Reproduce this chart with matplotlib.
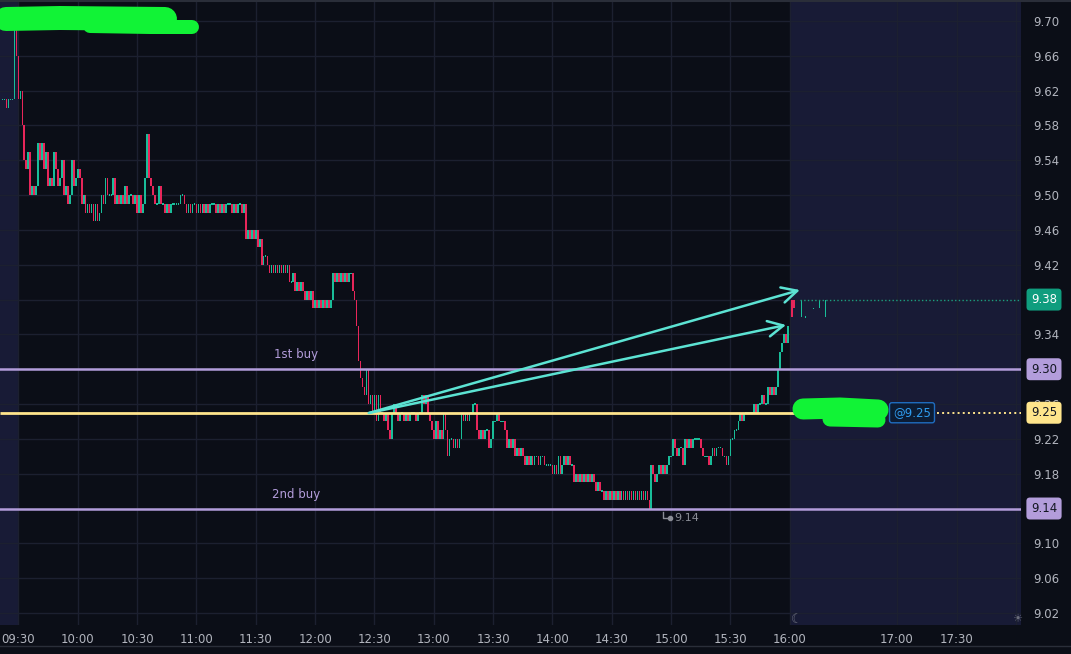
import numpy as np
import matplotlib
matplotlib.use('Agg')
import matplotlib.pyplot as plt

# 1-minute closes, cents above 9.00, one row per half hour (09:30 -> 15:59)
closes_cents = [
   61,62,58,54,53,55,50,51,50,51, 56,54,56,53,55,51,52,51,55,53, 51,52,54,50,51,49,50,54,51,52,
   53,52,49,50,48,49,48,49,47,49, 47,48,50,49,52,50,50,50,52,49, 50,49,50,49,51,49,50,50,49,50,
   48,50,48,49,52,57,52,51,50,49, 49,51,49,49,48,49,48,49,49,49, 49,49,50,50,49,48,49,48,49,49,
   48,49,48,49,48,49,48,49,49,49, 48,49,48,49,48,49,49,49,48,49, 48,49,49,48,49,45,46,45,46,45,
   46,44,45,42,43,43,42,41,42,41, 42,41,42,41,42,41,42,40,40,41, 39,40,39,40,39,38,39,38,39,37,
   38,37,38,37,38,37,38,37,38,41, 40,41,40,41,40,41,40,41,41,39, 38,35,31,29,28,27,30,26,27,25,
   27,24,27,25,25,24,25,23,22,25, 26,25,24,25,25,24,25,24,25,25, 25,24,25,25,27,26,27,25,24,23,
   22,24,22,23,22,25,23,20,22,22, 21,22,21,22,25,24,25,24,25,25, 26,26,23,22,23,22,23,23,21,22,
   24,24,25,24,24,24,23,21,22,21, 22,20,21,20,21,20,19,20,19,20, 19,20,20,19,20,20,19,19,19,19,
   18,19,18,20,18,19,20,19,20,19, 19,17,18,17,18,17,18,17,18,17, 18,17,16,17,16,16,15,16,15,16,
   15,16,15,16,15,16,15,16,15,16, 15,16,15,16,15,16,15,16,15,14, 19,18,17,18,19,18,19,18,19,20,
   20,22,21,20,21,21,19,22,21,22, 21,22,22,22,22,21,20,20,20,19, 20,21,20,21,21,21,20,20,19,20,
   22,22,23,23,24,25,24,25,25,25, 25,25,26,25,26,26,27,26,26,28, 27,28,27,28,30,32,33,34,33,35,
]
pre_minutes = [-8, -7, -6, -5, -4, -3, -2, -1]
pre_closes_cents = [61, 61, 60, 61, 61, 61, 69, 66]
post_minutes = [391, 392, 396, 398, 402, 405, 408]
post_open_cents = [38, 38, 36, 36, 37, 37, 36]
post_close_cents = [36, 37, 38, 36, 37, 38, 38]

buy_levels = [9.30, 9.14]
buy_names = ['1st buy', '2nd buy']
avg_price = 9.25
last_price = 9.38
day_low = 9.14
price_ticks = [round(9.02 + 0.04 * i, 2) for i in range(18)]
time_labels = ['09:30', '10:00', '10:30', '11:00', '11:30', '12:00', '12:30', '13:00',
               '13:30', '14:00', '14:30', '15:00', '15:30', '16:00', '17:00', '17:30', '']
time_pos = [0, 30, 60, 90, 120, 150, 180, 210, 240, 270, 300, 330, 360, 390, 444.2, 474.5, 504.4]

BG = '#0b0e17'
SESSION = '#181b36'
GRID = '#1c2030'
TXT = '#b2b5be'
UP = '#19bd99'
DOWN = '#e8265a'
PURPLE = '#b39ddb'
YELLOW = '#ffe58c'
CYAN = '#5ce3d3'
plt.rcParams['font.family'] = ['DejaVu Sans']


def draw_candles(ax, x, o, c):
   o = np.asarray(o) / 100 + 9
   c = np.asarray(c) / 100 + 9
   lo = np.minimum(o, c)
   h = np.abs(c - o)
   flat = h < 1e-9
   h = np.where(flat, 0.0016, h)
   lo = np.where(flat, lo - 0.0008, lo)
   col = np.where(c >= o, UP, DOWN)
   ax.bar(x, h, bottom=lo, width=0.85, color=col, linewidth=0, zorder=3)


fig = plt.figure(figsize=(10.71, 6.54), dpi=100, facecolor=BG)
ax = fig.add_axes([0, 29 / 654, 1021 / 1071, 625 / 654], facecolor=BG)
ax.set_xlim(-9.3, 506.9)
ax.set_ylim(9.0062, 9.7241)
for s in ax.spines.values():
   s.set_visible(False)

ax.axvspan(-9.3, 0, color=SESSION, lw=0, zorder=0)
ax.axvspan(390, 506.9, color=SESSION, lw=0, zorder=0)

# badge prices hide their own scale labels
badge_prices = [last_price] + buy_levels
ax.set_xticks(time_pos)
ax.set_xticklabels(time_labels)
ax.yaxis.tick_right()
ax.set_yticks(price_ticks)
ax.set_yticklabels(['' if p in badge_prices else '%.2f' % p for p in price_ticks])
ax.tick_params(axis='x', length=0, pad=6, labelcolor=TXT, labelsize=8.5)
ax.tick_params(axis='y', length=0, pad=9, labelcolor=TXT, labelsize=8.5)
ax.grid(True, color=GRID, lw=1, zorder=1)

# candles
reg_minutes = np.arange(len(closes_cents))
reg_open = [pre_closes_cents[-1]] + closes_cents[:-1]
pre_open = [pre_closes_cents[0]] + pre_closes_cents[:-1]
draw_candles(ax, pre_minutes, pre_open, pre_closes_cents)
draw_candles(ax, reg_minutes, reg_open, closes_cents)
draw_candles(ax, post_minutes, post_open_cents, post_close_cents)

# buy levels
for lvl, name in zip(buy_levels, buy_names):
   ax.axhline(lvl, color=PURPLE, lw=1.8, zorder=4)
   ax.text(140.3, lvl + 0.0164, name, color=PURPLE, fontsize=8.5, ha='center', va='center', zorder=5)

# average price line
ax.plot([-9.3, 395], [avg_price, avg_price], color=YELLOW, lw=2, zorder=4, solid_capstyle='butt')
ax.plot([464.4, 506.9], [avg_price, avg_price], color=YELLOW, lw=1.4, ls=':', zorder=4)
ax.text(451.8, avg_price, '@%.2f' % avg_price, color='#2f9cf0', fontsize=8.5, ha='center', va='center',
        zorder=6, bbox=dict(boxstyle='round,pad=0.3,rounding_size=0.2', fc='#0c1c34', ec='#1f6cbf', lw=1))

# last price line
ax.plot([395, 506.9], [last_price, last_price], color='#1a9c84', lw=1, ls=':', zorder=4)

# arrows
arrow_start = (177.2, 9.2497)
arrow_ends = [(395.1, 9.391), (388.1, 9.3508)]
for end in arrow_ends:
   ax.annotate('', xy=end, xytext=arrow_start, zorder=7,
               arrowprops=dict(arrowstyle='->,head_length=0.55,head_width=0.28', mutation_scale=20,
                               color=CYAN, lw=1.8, shrinkA=0, shrinkB=0))

# day low marker
ax.plot([325.9, 325.9, 329.4], [9.1360, 9.1291, 9.1291], color='#8a8d96', lw=1, zorder=5)
ax.plot([329.4], [9.1291], 'o', color='#8a8d96', ms=3, zorder=5)
ax.text(331.5, 9.1291, '%.2f' % day_low, color='#8a8d96', fontsize=8, ha='left', va='center', zorder=5)

# price scale badges
ytr = ax.get_yaxis_transform()
badges = [(last_price, '#0f9d7e', 'white'), (buy_levels[0], PURPLE, '#131722'),
          (avg_price, YELLOW, '#131722'), (buy_levels[1], PURPLE, '#131722')]
for p, fc, tc in badges:
   ax.text(1044 / 1021, p, '%.2f' % p, transform=ytr, color=tc, fontsize=8.5, ha='center', va='center',
           clip_on=False, zorder=10,
           bbox=dict(boxstyle='round,pad=0.38,rounding_size=0.3', fc=fc, ec='none'))

# session icons
ax.text(393.5, 9.0125, '\u263e', color='#6a6d7c', fontsize=9, ha='center', va='center', zorder=5)
ax.text(505, 9.0125, '\u2600', color='#6a6d7c', fontsize=8, ha='center', va='center', zorder=5)

# overlay in pixel coords: borders and the green redaction marks
ov = fig.add_axes([0, 0, 1, 1])
ov.set_xlim(0, 1071)
ov.set_ylim(654, 0)
ov.axis('off')
ov.plot([0, 1071], [1, 1], color='#2a2e39', lw=1.5)
ov.plot([0, 1071], [645.5, 645.5], color='#2a2e39', lw=1)
GREEN = '#11f336'
for xs, ys, w in [([6, 60, 165], [19, 18, 19], 24), ([90, 150, 192], [26, 27, 27], 14),
                  ([803, 840, 878], [409, 408, 410], 21), ([830, 878], [419, 420], 15)]:
   ov.plot(xs, ys, color=GREEN, lw=w * 0.72, solid_capstyle='round', solid_joinstyle='round')

fig.savefig('out.png', dpi=100, facecolor=BG)
